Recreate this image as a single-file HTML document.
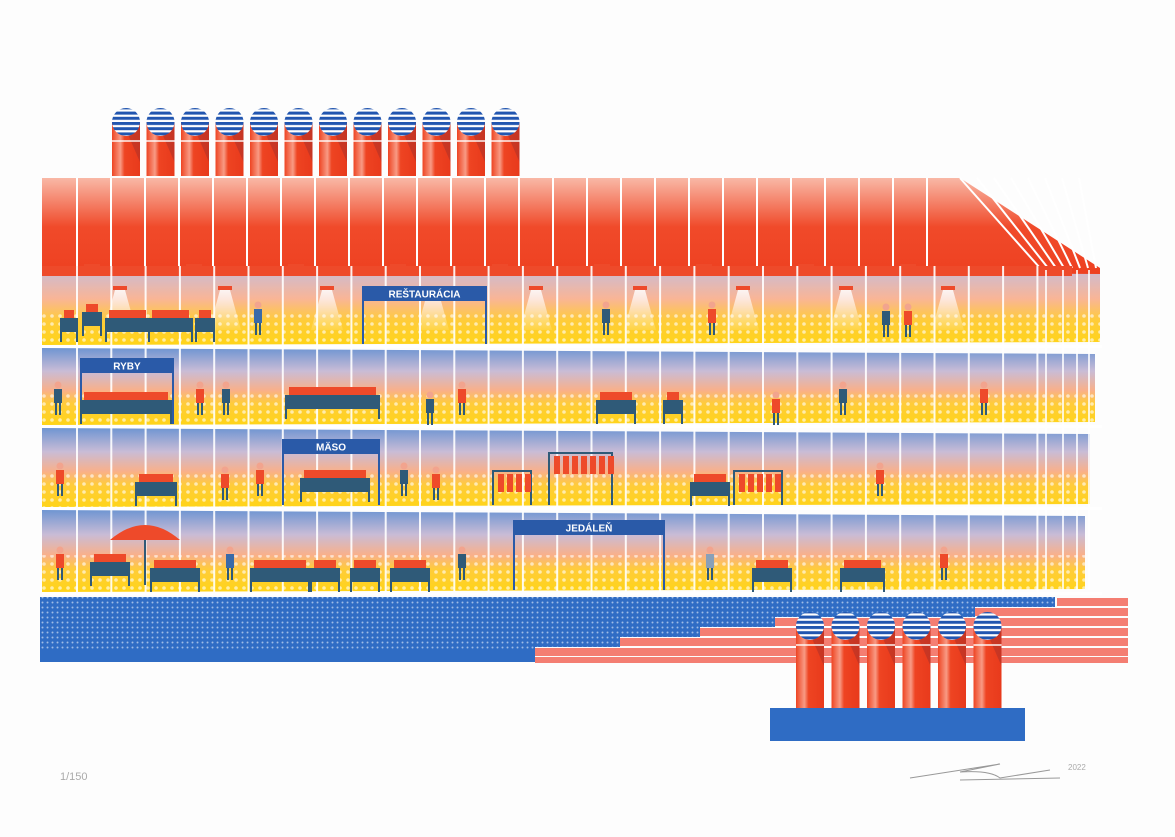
<!DOCTYPE html>
<html><head><meta charset="utf-8"><style>
html,body{margin:0;padding:0;background:#fdfdfd;}
svg{display:block}
</style></head><body>
<svg id="s" width="1175" height="837" viewBox="0 0 1175 837" xmlns="http://www.w3.org/2000/svg">
<defs>
<linearGradient id="roof" x1="0" y1="0" x2="0" y2="1">
<stop offset="0" stop-color="#f9b8a6"/><stop offset="0.5" stop-color="#f04a2a"/><stop offset="1" stop-color="#ee4020"/></linearGradient>
<linearGradient id="fl" x1="0" y1="0" x2="0" y2="1">
<stop offset="0" stop-color="#6f95d2"/><stop offset="0.3" stop-color="#c9bcd6"/><stop offset="0.55" stop-color="#f9b08a"/><stop offset="0.72" stop-color="#ffcc3a"/><stop offset="1" stop-color="#ffd418"/></linearGradient>
<linearGradient id="fl1" x1="0" y1="0" x2="0" y2="1">
<stop offset="0" stop-color="#c9bcd6"/><stop offset="0.4" stop-color="#f9b596"/><stop offset="0.68" stop-color="#ffcc3a"/><stop offset="1" stop-color="#ffd418"/></linearGradient>
<linearGradient id="ch" x1="0" y1="0" x2="1" y2="0">
<stop offset="0" stop-color="#ee4422"/><stop offset="0.3" stop-color="#f89a84"/><stop offset="0.45" stop-color="#ee4422"/><stop offset="1" stop-color="#e83a1c"/></linearGradient>
<linearGradient id="cone" x1="0" y1="0" x2="0" y2="1">
<stop offset="0" stop-color="#fff" stop-opacity="0.85"/><stop offset="1" stop-color="#fff" stop-opacity="0.1"/></linearGradient>
<pattern id="dots" width="8" height="8" patternUnits="userSpaceOnUse"><circle cx="4" cy="4" r="1.8" fill="#fff" opacity="0.6"/></pattern>
<pattern id="bdots" width="5" height="5" patternUnits="userSpaceOnUse"><rect width="5" height="5" fill="#2f6cc4"/><circle cx="2.5" cy="2.5" r="1" fill="#9fbbe6"/></pattern>
<pattern id="stripe" width="10" height="5.2" patternUnits="userSpaceOnUse"><rect width="10" height="5.2" fill="#2256b0"/><rect y="3" width="10" height="2.2" fill="#fff"/></pattern>
<clipPath id="cap"><circle r="14"/></clipPath>
</defs>
<g id="g"></g>
</svg>
<script>
const g=document.getElementById('g');let h='';
function R(x,y,w,hh,f,extra){h+=`<rect x="${x}" y="${y}" width="${w}" height="${hh}" fill="${f}" ${extra||''}/>`;}
function chim(x,yc,yb){
  h+=`<rect x="${x}" y="${yc}" width="28" height="${yb-yc}" fill="url(#ch)"/>`;
  h+=`<polygon points="${x+14},${yc+8} ${x+28},${yc} ${x+28},${yc+40}" fill="#8a2a30" opacity="0.35"/>`;
  R(x,yc+18,28,2,'#fff','opacity="0.7"');
  h+=`<g transform="translate(${x+14},${yc})"><g clip-path="url(#cap)"><rect x="-14" y="-14" width="28" height="28" fill="url(#stripe)"/></g></g>`;
}
for(let i=0;i<12;i++)chim(112+i*34.5,122,176);
h+=`<polygon points="42,178 960,178 1100,268 1100,276 42,276" fill="url(#roof)"/>`;
for(let x=76;x<960;x+=34)R(x,178,2,90,'#fff');
for(let i=0;i<8;i++){let x=960+i*17;h+=`<line x1="${x}" y1="178" x2="${1040+i*8}" y2="268" stroke="#fff" stroke-width="2"/>`;}
const fl=[[268,345,1100],[348,425,1095],[428,507,1090],[510,592,1085]];
fl.forEach((f,i)=>{
  h+=`<polygon points="42,${f[0]} ${f[2]},${f[0]+6} ${f[2]},${f[1]-3} 42,${f[1]}" fill="url(#${i==0?'fl1':'fl'})"/>`;
  h+=`<rect x="42" y="${f[0]+(f[1]-f[0])*0.55}" width="${f[2]-42}" height="${(f[1]-f[0])*0.45}" fill="url(#dots)"/>`;
});
R(42,266,1030,10,'#ee4a2a');
for(let x=84;x<1000;x+=102)R(x,264,16,6,'#ee4a2a');
[120,225,327,433,536,640,743,846,948].forEach(x=>{
  h+=`<rect x="${x-7}" y="286" width="14" height="4" fill="#ee4a2a"/>`;
  h+=`<polygon points="${x-5},290 ${x+5},290 ${x+16},330 ${x-16},330" fill="url(#cone)"/>`;
});
for(let x=76;x<1040;x+=34.3)R(x,266,2,326,'#fff','opacity="0.9"');
[1045,1062,1076,1088].forEach(x=>R(x,270,2,320,'#fff','opacity="0.8"'));
[345,425,507,592].forEach(y=>R(42,y,1060,3,'#fff'));
function sign(x,y,w,t,leg){R(x,y,w,15,'#2a5aa8');h+=`<text x="${x+w/2}" y="${y+11.5}" font-family="Liberation Sans,sans-serif" font-weight="bold" font-size="10" fill="#fff" text-anchor="middle">${t}</text>`;
 if(leg){R(x,y,2,leg,'#2a5aa8');R(x+w-2,y,2,leg,'#2a5aa8');}}
sign(362,286,125,'REŠTAURÁCIA',58);sign(80,358,94,'RYBY',66);sign(282,439,98,'MÄSO',66);sign(513,520,152,'JEDÁLEŇ',70);
function stall(x,y,w){R(x,y,w,14,'#2f5a78');R(x,y+14,2,10,'#2f5a78');R(x+w-2,y+14,2,10,'#2f5a78');R(x+4,y-8,w-8,8,'#ee4a2a');}
[[60,318,18],[82,312,20],[105,318,45],[148,318,45],[195,318,20]].forEach(a=>stall(...a));
[[80,400,92],[285,395,95],[596,400,40],[663,400,20],[135,482,42],[300,478,70],[690,482,40],[90,562,40],[150,568,50],[250,568,60],[310,568,30],[350,568,30],[390,568,40],[752,568,40],[840,568,45]].forEach(a=>stall(...a));
function person(x,y,c){h+=`<circle cx="${x}" cy="${y}" r="3.5" fill="#f2a48e"/>`;R(x-4,y+4,8,14,c);R(x-3,y+18,2,12,'#2f5a78');R(x+1,y+18,2,12,'#2f5a78');}
[[258,305,'#3a6aa8'],[606,305,'#2f5a78'],[712,305,'#ee4a2a'],[886,307,'#2f5a78'],[908,307,'#ee4a2a'],[58,385,'#2f5a78'],[200,385,'#ee4a2a'],[226,385,'#2f5a78'],[462,385,'#ee4a2a'],[430,395,'#2f5a78'],[776,395,'#ee4a2a'],[843,385,'#2f5a78'],[984,385,'#ee4a2a'],[60,466,'#ee4a2a'],[225,470,'#ee4a2a'],[260,466,'#ee4a2a'],[404,466,'#2f5a78'],[436,470,'#ee4a2a'],[880,466,'#ee4a2a'],[60,550,'#ee4a2a'],[230,550,'#3a6aa8'],[462,550,'#2f5a78'],[710,550,'#8aa0b8'],[944,550,'#ee4a2a']].forEach(a=>person(...a));
h+=`<path d="M110,540 Q145,510 180,540 Z" fill="#ee4a2a"/>`;R(144,540,2,45,'#2f5a78');
[[492,470,40],[548,452,65],[733,470,50]].forEach(([x,y,w])=>{R(x,y,w,2,'#2f5a78');R(x,y,2,505-y,'#2f5a78');R(x+w-2,y,2,505-y,'#2f5a78');for(let i=6;i<w-4;i+=9)R(x+i,y+4,6,18,i%18?'#ee4a2a':'#3a6aa8');});
h+=`<polygon points="40,597 1055,597 1055,607 975,607 975,617 775,617 775,627 700,627 700,637 620,637 620,647 535,647 535,662 40,662" fill="url(#bdots)"/>`;
R(40,650,495,12,'#2f6cc4');
[[1057,597],[975,607],[775,617],[700,627],[620,637],[535,647]].forEach(([x,y],i)=>{R(x,y+1,1128-x,8,'#f47e72');R(x,y+10,1128-x,i==5?6:0,'#f47e72');});
for(let i=0;i<6;i++)chim(796+i*35.5,626,708);
R(770,708,255,33,'#2f6cc4');
h+=`<text x="60" y="780" font-family="Liberation Sans,sans-serif" font-size="11" fill="#aaa">1/150</text>`;
h+=`<path d="M910,778 L1000,764 L960,772 Q990,770 1000,778 L1050,770 M960,780 L1060,778" stroke="#999" stroke-width="1" fill="none"/>`;
h+=`<text x="1068" y="770" font-family="Liberation Sans,sans-serif" font-size="8" fill="#aaa">2022</text>`;
g.innerHTML=h;
</script>
</body></html>
